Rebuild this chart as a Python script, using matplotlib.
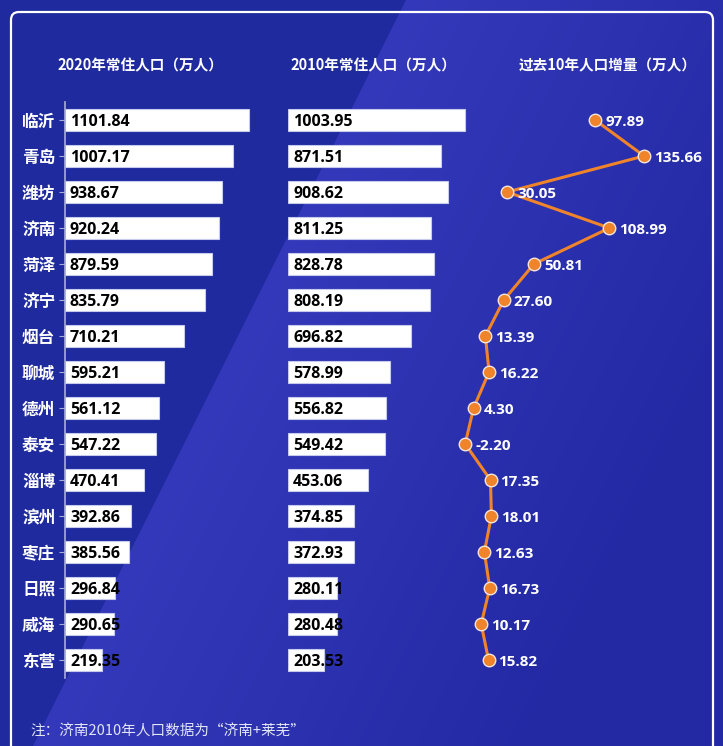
import numpy as np
import matplotlib
matplotlib.use("Agg")
import matplotlib.pyplot as plt
from matplotlib.patches import FancyBboxPatch

LAT = ["Open Sans", "Noto Sans CJK SC", "DejaVu Sans"]
CJK = ["Noto Sans CJK SC", "DejaVu Sans"]
plt.rcParams["font.family"] = CJK

cities = ["临沂", "青岛", "潍坊", "济南", "菏泽", "济宁", "烟台", "聊城",
          "德州", "泰安", "淄博", "滨州", "枣庄", "日照", "威海", "东营"]
pop_2020 = [1101.84, 1007.17, 938.67, 920.24, 879.59, 835.79, 710.21, 595.21,
            561.12, 547.22, 470.41, 392.86, 385.56, 296.84, 290.65, 219.35]
pop_2010 = [1003.95, 871.51, 908.62, 811.25, 828.78, 808.19, 696.82, 578.99,
            556.82, 549.42, 453.06, 374.85, 372.93, 280.11, 280.48, 203.53]
growth = [97.89, 135.66, 30.05, 108.99, 50.81, 27.60, 13.39, 16.22,
          4.30, -2.20, 17.35, 18.01, 12.63, 16.73, 10.17, 15.82]
titles = ["2020年常住人口（万人）", "2010年常住人口（万人）", "过去10年人口增量（万人）"]
note = "注：济南2010年人口数据为“济南+莱芜”"

W, H = 723, 746
WHITE, ORANGE, INK = "#ffffff", "#f0842a", "#000000"

fig = plt.figure(figsize=(W / 100, H / 100), dpi=100)


def fx(px):
    return px / W


def fy(py):
    return 1 - py / H


# ---- background: dark navy, lighter diagonal sweep to the right ----
bg = fig.add_axes([0, 0, 1, 1])
yy, xx = np.mgrid[0:H, 0:W]
edge = 405 - 0.5 * yy
inside = xx > edge
dark = np.array([30, 42, 158]) / 255
d = np.clip((xx - edge) / 500, 0, 1)[..., None]
light = (np.array([52, 57, 187]) * (1 - d) + np.array([35, 41, 163]) * d) / 255
img = np.where(inside[..., None], light, dark)
bg.imshow(img, extent=[0, W, H, 0], aspect="auto")
bg.set_xlim(0, W); bg.set_ylim(H, 0); bg.axis("off")
bg.add_patch(FancyBboxPatch((11, 12), 702, 780, boxstyle="round,pad=0,rounding_size=8",
                            fc="none", ec=WHITE, lw=1.6))

# ---- axes geometry (pixel based) ----
top, bot = 102, 678
y = np.arange(len(cities))


def panel(left, right, xlim):
    ax = fig.add_axes([fx(left), fy(bot), fx(right - left), (bot - top) / H])
    ax.set_xlim(*xlim)
    ax.set_ylim(len(cities) - 0.5, -0.5)
    ax.patch.set_alpha(0)
    for s in ax.spines.values():
        s.set_visible(False)
    ax.set_xticks([])
    return ax


ax1 = panel(65, 265, (0, 200 / 0.167))
ax2 = panel(288, 488, (0, 200 / 0.176))
ax3 = panel(440, 700, (-28 / 1.298, 232 / 1.298))

for ax, vals in [(ax1, pop_2020), (ax2, pop_2010)]:
    ax.barh(y, vals, height=0.6, color=WHITE, edgecolor="#c6cbee", lw=0.8)
    for yi, v in zip(y, vals):
        ax.annotate(f"{v:.2f}", (0, yi), xytext=(5, 0), textcoords="offset pixels",
                    ha="left", va="center_baseline", fontsize=11.5, fontweight="bold",
                    color=INK, family=LAT)

ax1.spines["left"].set_visible(True)
ax1.spines["left"].set_color("#a9aed6")
ax1.spines["left"].set_linewidth(1.2)
ax1.set_yticks(y)
ax1.set_yticklabels(cities, fontsize=12, fontweight="bold", color=WHITE)
ax1.tick_params(axis="y", length=4, color="#a9aed6", pad=3)
ax2.set_yticks([]); ax3.set_yticks([])

ax3.plot(growth, y, color=ORANGE, lw=2.2, marker="o", ms=9,
         mfc=ORANGE, mec="#f4e6dc", mew=1, zorder=3)
for yi, v in zip(y, growth):
    ax3.annotate(f"{v:.2f}", (v, yi), xytext=(10, 0), textcoords="offset pixels",
                 ha="left", va="center_baseline", fontsize=11, fontweight="bold",
                 color=WHITE, family=LAT)

for cx, tt in zip([140, 373, 608], titles):
    fig.text(fx(cx), fy(65), tt, ha="center", va="center", fontsize=10.5,
             fontweight="bold", color=WHITE)

fig.text(fx(30), fy(732), note, ha="left", va="center", fontsize=10.5, color="#e2e5f7")

fig.savefig("out.png", dpi=100)
plt.close(fig)
